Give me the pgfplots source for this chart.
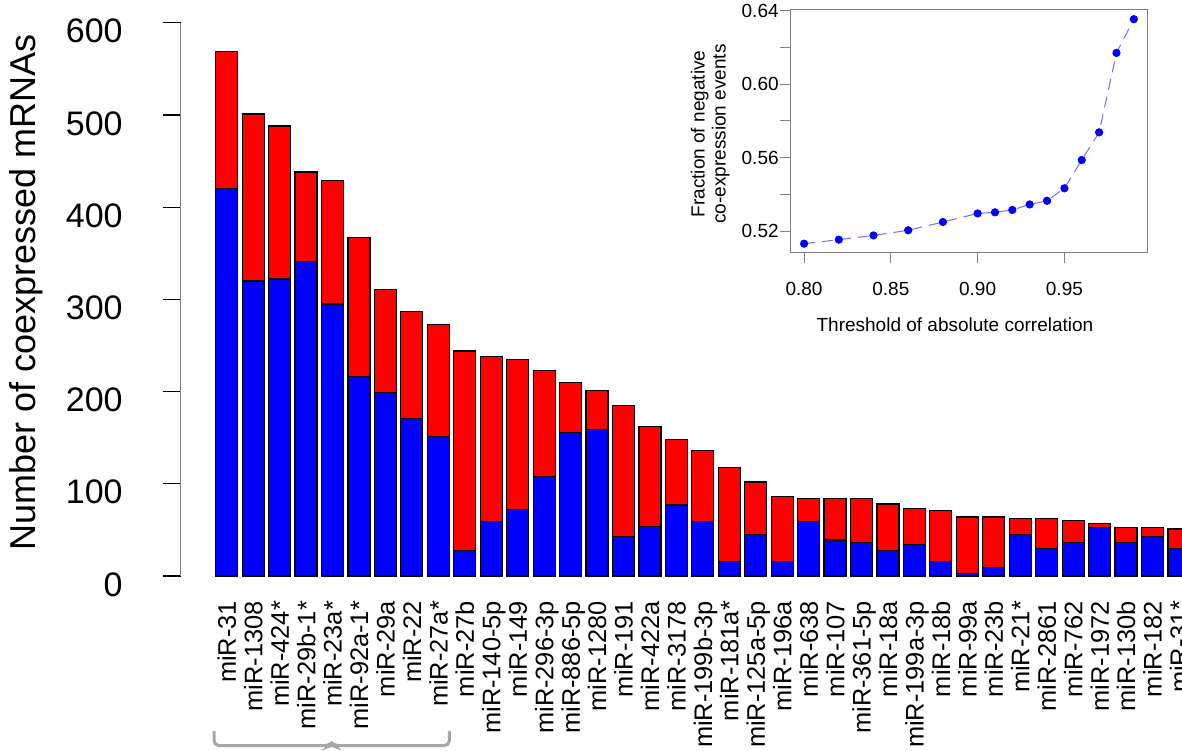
\documentclass[border=0pt]{standalone}
\usepackage{fontspec}
\setmainfont{Liberation Sans}
\usepackage{pgfplots}
\pgfplotsset{compat=1.18}
\usepackage{pgfplotstable}
\definecolor{barred}{RGB}{255,0,0}
\definecolor{barblue}{RGB}{0,0,255}
\definecolor{axgray}{RGB}{128,128,128}
\definecolor{linebl}{RGB}{110,110,255}
\definecolor{brk}{RGB}{166,166,166}

\pgfplotstableread{
idx blue red
1 420 149
2 320 181
3 322 166
4 341 97
5 295 134
6 216 151
7 199 112
8 171 116
9 151 122
10 28 216
11 59 179
12 72 163
13 108 115
14 156 54
15 159 42
16 43 142
17 54 108
18 77 71
19 59 77
20 16 102
21 45 57
22 16 70
23 59 25
24 39 45
25 36 48
26 28 50
27 34 39
28 16 55
29 3 61
30 9 55
31 45 17
32 30 32
33 36 24
34 53 4
35 36 17
36 43 10
37 30 21
}\maindata

\begin{document}
\begin{tikzpicture}
\path[use as bounding box] (0pt,0pt) rectangle (591pt,375pt);
\clip (0pt,0pt) rectangle (591pt,375pt);
\begin{axis}[
  at={(90.35pt,87pt)}, anchor=south west,
  scale only axis, width=500.65pt, height=276.65pt,
  xmin=-0.739, xmax=37.117, ymin=0, ymax=600,
  axis lines=left,
  axis line style={-},
  x axis line style={draw=none},
  y axis line style={axgray, line width=0.75pt},
  ybar stacked, bar width=11pt,
  xtick={1,...,37},
  xticklabels={miR-31,miR-1308,miR-424*,miR-29b-1*,miR-23a*,miR-92a-1*,miR-29a,miR-22,miR-27a*,miR-27b,miR-140-5p,miR-149,miR-296-3p,miR-886-5p,miR-1280,miR-191,miR-422a,miR-3178,miR-199b-3p,miR-181a*,miR-125a-5p,miR-196a,miR-638,miR-107,miR-361-5p,miR-18a,miR-199a-3p,miR-18b,miR-99a,miR-23b,miR-21*,miR-2861,miR-762,miR-1972,miR-130b,miR-182,miR-31*},
  xtick style={draw=none},
  ytick={0,100,...,600},
  tick align=outside,
  major tick length=9pt,
  ytick style={black, line width=0.6pt},
  /pgf/number format/assume math mode=true,
  yticklabel style={font=\fontsize{17}{17}\selectfont, anchor=east, xshift=-16.5pt, yshift=-4.2pt},
  xticklabel style={font=\fontsize{12.7}{13}\selectfont, rotate=90, anchor=east, text depth=0pt},
  ylabel={Number of coexpressed mRNAs},
  ylabel style={font=\fontsize{18}{18}\selectfont, at={(axis description cs:-0.1545,0.513)}, anchor=center},
]
\addplot[fill=barblue, draw=black, line width=0.6pt] table[x=idx,y=blue]{\maindata};
\addplot[fill=barred, draw=black, line width=0.6pt] table[x=idx,y=red]{\maindata};
\end{axis}

\begin{axis}[
  at={(395.35pt,248.85pt)}, anchor=south west,
  scale only axis, width=178.15pt, height=121.15pt,
  xmin=0.7923, xmax=0.9976, ymin=0.5084, ymax=0.6405,
  axis line style={axgray, line width=0.5pt},
  xtick={0.80,0.85,0.90,0.95}, xticklabels={0.80,0.85,0.90,0.95},
  ytick={0.52,0.56,0.60,0.64}, yticklabels={0.52,0.56,0.60,0.64},
  minor ytick={0.54,0.58,0.62},
  tick align=outside, xtick pos=left, ytick pos=left,
  major tick length=5.5pt, minor tick length=5.5pt,
  tick style={axgray, line width=0.5pt},
  xticklabel style={font=\fontsize{9.5}{10}\selectfont, yshift=-6pt},
  yticklabel style={font=\fontsize{9.5}{10}\selectfont, xshift=3pt},
  xlabel={Threshold of absolute correlation},
  xlabel style={font=\fontsize{9.5}{10}\selectfont, at={(axis description cs:0.461,-0.300)}, anchor=center},
  ylabel={Fraction of negative\\co-expression events},
  ylabel style={font=\fontsize{9.5}{10.5}\selectfont, align=center, at={(axis description cs:-0.226,0.488)}, anchor=center},
]
\addplot[linebl, line width=0.5pt, dash pattern=on 5.5pt off 3.5pt, mark=*, mark size=1.8pt, mark options={solid, fill=barblue, draw=barblue}] coordinates {
(0.80,0.5131)(0.82,0.5153)(0.84,0.5176)(0.86,0.5204)(0.88,0.5249)(0.90,0.5296)(0.91,0.5302)(0.92,0.5315)(0.93,0.5345)(0.94,0.5365)(0.95,0.5433)(0.96,0.5587)(0.97,0.5738)(0.98,0.6171)(0.99,0.6355)};
\end{axis}

\draw[brk, line width=1.5pt, rounded corners=2.5pt] (107pt,9.5pt) -- (107pt,2.2pt) -- (164.6pt,2.2pt) -- (165.85pt,3.3pt) -- (167.1pt,2.2pt) -- (224.65pt,2.2pt) -- (224.65pt,9.5pt);
\end{tikzpicture}
\end{document}
